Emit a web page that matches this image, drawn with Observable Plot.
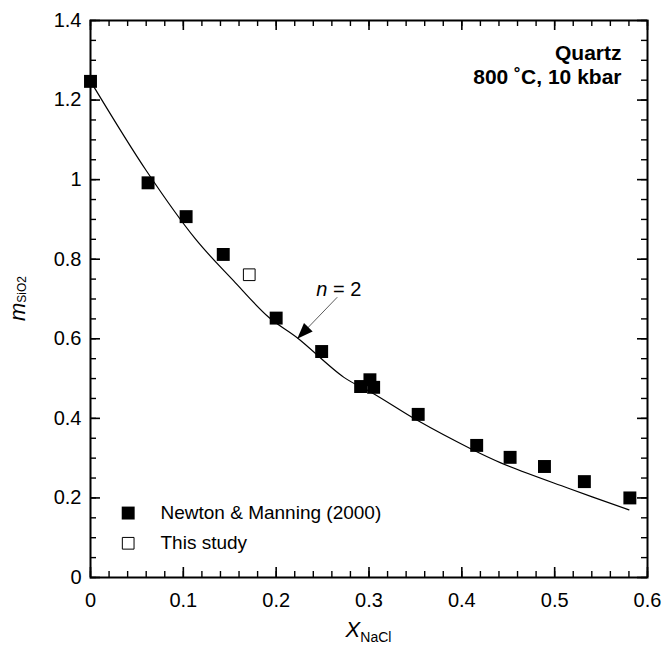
<!DOCTYPE html>
<html>
<head>
<meta charset="utf-8">
<script src="https://cdn.jsdelivr.net/npm/d3@7"></script>
<script src="https://cdn.jsdelivr.net/npm/@observablehq/plot@0.6"></script>
<style>
  html, body { margin: 0; padding: 0; background: #fff; }
</style>
</head>
<body>
<div id="chart"></div>
<script>
// Newton & Manning (2000) data
const nmX = [0, 0.062, 0.103, 0.143, 0.200, 0.249, 0.291, 0.301, 0.305, 0.353, 0.416, 0.452, 0.489, 0.532, 0.581];
const nmY = [1.247, 0.992, 0.907, 0.812, 0.652, 0.568, 0.480, 0.497, 0.478, 0.410, 0.332, 0.302, 0.279, 0.241, 0.200];
// This study
const thisX = [0.171];
const thisY = [0.761];
// n = 2 model curve
const curveX = [0.004, 0.060, 0.113, 0.154, 0.192, 0.223, 0.273, 0.305, 0.352, 0.410, 0.442, 0.514, 0.580];
const curveY = [1.232, 1.023, 0.851, 0.746, 0.654, 0.602, 0.503, 0.462, 0.395, 0.323, 0.288, 0.225, 0.170];
// ticks
const xMajor = [0, 0.1, 0.2, 0.3, 0.4, 0.5, 0.6];
const xMinor = d3.range(0, 31).map(i => i / 50);
const yMajor = [0, 0.2, 0.4, 0.6, 0.8, 1.0, 1.2, 1.4];
const yMinor = d3.range(0, 29).map(i => i / 20);
// annotations
const legendLabels = ["Newton & Manning (2000)", "This study"];
const legendY = [0.162, 0.086];
const infoLines = ["Quartz", "800 ˚C, 10 kbar"];
const infoY = [1.318, 1.258];
const arrowFrom = {x: 0.2658, y: 0.7045};
const arrowTo = {x: 0.2227, y: 0.600};

const nm = nmX.map((x, i) => ({x, y: nmY[i]}));
const ts = thisX.map((x, i) => ({x, y: thisY[i]}));
const curve = curveX.map((x, i) => ({x, y: curveY[i]}));
const fmt = d => String(+d.toFixed(1));

const arrowHead = {
  draw(ctx, size) {
    ctx.moveTo(0, 0);
    ctx.lineTo(-6, 16);
    ctx.lineTo(6, 16);
    ctx.closePath();
  }
};

const font = "Liberation Sans, Arial, Helvetica, sans-serif";
const W = 666, H = 646, ML = 90, MR = 19, MT = 20, MB = 69;
const innerW = W - ML - MR, innerH = H - MT - MB;
const X0 = 0, X1 = 0.6, Y0 = 0, Y1 = 1.4;
// tick lengths expressed in data units (layout only)
const tyMaj = 10 * (Y1 - Y0) / innerH, tyMin = 6 * (Y1 - Y0) / innerH;
const txMaj = 10 * (X1 - X0) / innerW, txMin = 6 * (X1 - X0) / innerW;

const plot = Plot.plot({
  width: W,
  height: H,
  marginLeft: ML,
  marginRight: MR,
  marginTop: MT,
  marginBottom: MB,
  style: {fontFamily: font, fontSize: "20px", background: "#fff", color: "#000"},
  x: {domain: [X0, X1], label: null, axis: null},
  y: {domain: [Y0, Y1], label: null, axis: null},
  marks: [
    // tick labels
    Plot.axisX(xMajor, {anchor: "bottom", tickSize: 0, tickPadding: 15, tickFormat: fmt, fontSize: 20}),
    Plot.axisY(yMajor, {anchor: "left", tickSize: 0, tickPadding: 9, tickFormat: fmt, fontSize: 20}),
    // inward ticks on all four sides
    Plot.ruleX(xMinor, {x: d => d, y1: Y0, y2: Y0 + tyMin, stroke: "#000", strokeWidth: 1.4}),
    Plot.ruleX(xMajor, {x: d => d, y1: Y0, y2: Y0 + tyMaj, stroke: "#000", strokeWidth: 1.6}),
    Plot.ruleX(xMinor, {x: d => d, y1: Y1 - tyMin, y2: Y1, stroke: "#000", strokeWidth: 1.4}),
    Plot.ruleX(xMajor, {x: d => d, y1: Y1 - tyMaj, y2: Y1, stroke: "#000", strokeWidth: 1.6}),
    Plot.ruleY(yMinor, {y: d => d, x1: X0, x2: X0 + txMin, stroke: "#000", strokeWidth: 1.4}),
    Plot.ruleY(yMajor, {y: d => d, x1: X0, x2: X0 + txMaj, stroke: "#000", strokeWidth: 1.6}),
    Plot.ruleY(yMinor, {y: d => d, x1: X1 - txMin, x2: X1, stroke: "#000", strokeWidth: 1.4}),
    Plot.ruleY(yMajor, {y: d => d, x1: X1 - txMaj, x2: X1, stroke: "#000", strokeWidth: 1.6}),
    Plot.frame({stroke: "#000", strokeWidth: 2}),
    // model curve
    Plot.line(curve, {x: "x", y: "y", stroke: "#000", strokeWidth: 1.2, curve: "catmull-rom"}),
    // data
    Plot.dot(nm, {x: "x", y: "y", symbol: "square", r: 7.3, fill: "#000", stroke: "none"}),
    Plot.dot(ts, {x: "x", y: "y", symbol: "square", r: 6.6, fill: "#fff", stroke: "#000", strokeWidth: 1}),
    // arrow annotation
    Plot.link([{}], {x1: arrowFrom.x, y1: arrowFrom.y, x2: arrowTo.x, y2: arrowTo.y, stroke: "#333", strokeWidth: 0.8}),
    Plot.dot([{}], {x: arrowTo.x, y: arrowTo.y, symbol: arrowHead, rotate: 223.9, fill: "#000", stroke: "none"}),
    // legend
    Plot.dot([legendLabels[0]], {x: 0.0406, y: legendY[0], symbol: "square", r: 7.3, fill: "#000", stroke: "none"}),
    Plot.dot([legendLabels[1]], {x: 0.0406, y: legendY[1], symbol: "square", r: 6.6, fill: "#fff", stroke: "#000", strokeWidth: 1}),
    Plot.text(legendLabels, {x: 0.0754, y: (d, i) => legendY[i], text: d => d, textAnchor: "start", fontSize: 19, fill: "#000"}),
    // info text
    Plot.text(infoLines, {x: 0.572, y: (d, i) => infoY[i], text: d => d, textAnchor: "end", fontSize: 21, fontWeight: "bold", fill: "#000"})
  ]
});

const svg = d3.select(plot);
const sx = plot.scale("x"), sy = plot.scale("y");

// n = 2 label
const nt = svg.append("text")
  .attr("x", sx.apply(0.268)).attr("y", sy.apply(0.707))
  .attr("font-family", font).attr("font-size", 20).attr("fill", "#000");
nt.append("tspan").attr("font-style", "italic").text("n");
nt.append("tspan").text(" = 2");

// x axis title
const xt = svg.append("text")
  .attr("x", sx.apply(0.3)).attr("y", 637).attr("text-anchor", "middle")
  .attr("font-family", font).attr("fill", "#000");
xt.append("tspan").attr("font-style", "italic").attr("font-size", 22).text("X");
xt.append("tspan").attr("font-size", 14).attr("dy", 5).text("NaCl");

// y axis title
const yt = svg.append("text")
  .attr("transform", `translate(25,${sy.apply(0.7)}) rotate(-90)`)
  .attr("text-anchor", "middle")
  .attr("font-family", font).attr("fill", "#000");
yt.append("tspan").attr("font-style", "italic").attr("font-size", 22).text("m");
yt.append("tspan").attr("font-size", 12).attr("dy", 1).text("SiO2");

document.getElementById("chart").appendChild(plot);
</script>
</body>
</html>
